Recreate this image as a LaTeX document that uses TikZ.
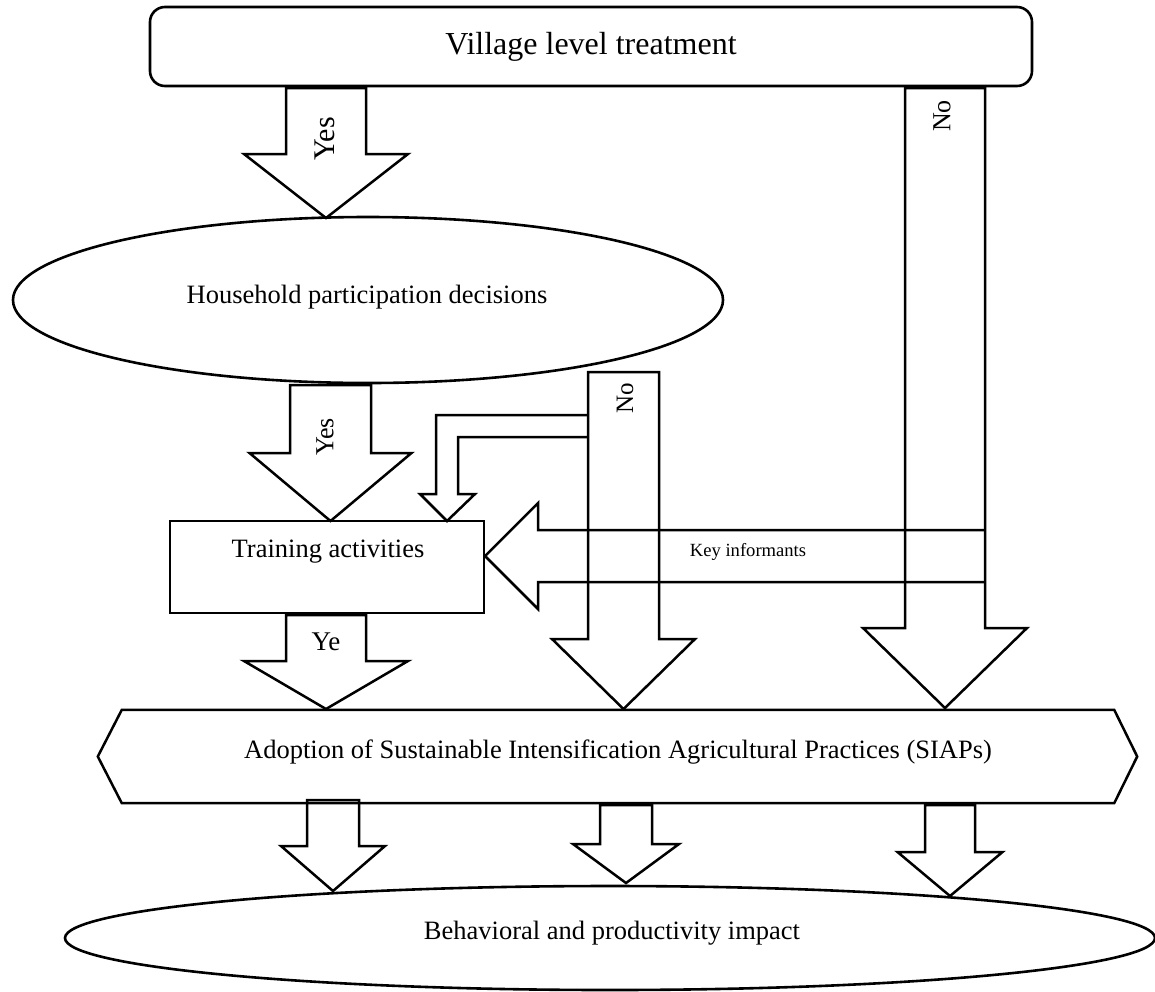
\documentclass[tikz,border=0pt]{standalone}
\usepackage{fontspec}
\setmainfont{Liberation Serif}
\usetikzlibrary{shapes.geometric}
\newcommand\blkdown[6]{%
  \draw[blk] ({#1-#5},#2) -- ({#1-#5},#3) -- ({#1-#6},#3) -- (#1,#4) -- ({#1+#6},#3) -- ({#1+#5},#3) -- ({#1+#5},#2) -- cycle;}
\tikzset{
  outl/.style={draw=black, line width=2.6pt, inner sep=0pt},
  blk/.style={draw=black, line width=2.5pt, line join=miter},
  fmain/.style={font=\fontsize{26.5}{30}\selectfont},
  lbl/.style={inner sep=0pt}
}
\begin{document}
\begin{tikzpicture}[x=1pt,y=-1pt]
\useasboundingbox (0,0) rectangle (1155,991);
% boxes
\node[outl, rounded corners=15pt, minimum width=882pt, minimum height=79pt,
  font=\fontsize{32}{36}\selectfont] (vlt) at (591,46.5) {Village level treatment};
\node[outl, ellipse, minimum width=710pt, minimum height=166pt, fmain] (hh) at (368,300) {};
\node[lbl, fmain] (hht) at (367,297) {Household participation decisions};
\node[outl, minimum width=314pt, minimum height=92pt] (tr) at (327,567) {};
\node[lbl, fmain] (trt) at (328,552) {Training activities};
\node[lbl, minimum width=992pt, minimum height=93pt] (siap) at (618,756.5) {};
\draw[blk] (siap.north west) -- (siap.north east) -- ([xshift=23pt]siap.east) -- (siap.south east) -- (siap.south west) -- ([xshift=-24pt]siap.west) -- cycle;
\node[lbl, fmain] (siapt) at (618,752) {Adoption of Sustainable Intensification Agricultural Practices (SIAPs)};
\node[outl, ellipse, minimum width=1090pt, minimum height=104pt] (imp) at (610,938) {};
\node[lbl, fmain] (impt) at (612,933) {Behavioral and productivity impact};
% block arrows
\blkdown{326}{88}{154}{218}{40}{82}
\blkdown{945}{88}{628}{708}{40}{82}
\blkdown{330.5}{385}{453}{521}{40.5}{81}
\blkdown{623.5}{372}{639}{709}{35.5}{71.5}
\blkdown{326}{615}{661}{709}{40}{82}
\blkdown{333}{800}{846}{891}{26}{52}
\blkdown{626}{805}{844}{883}{26}{53}
\blkdown{950}{805}{852}{896}{25}{52.5}
% bent arrow from No into training
\draw[blk] (588,415) -- (436,415) -- (436,494) -- (420,494) -- (447,521) -- (475,494) -- (458,494) -- (458,437) -- (588,437);
% key informants arrow
\draw[blk] (985,530) -- (538,530) -- (538,503) -- (485,556) -- (538,609) -- (538,582) -- (985,582);
% labels
\node[lbl, rotate=90, font=\fontsize{30}{34}\selectfont] (y1) at (325,139) {Yes};
\node[lbl, rotate=90, font=\fontsize{26}{30}\selectfont] (n1) at (942,116) {No};
\node[lbl, rotate=90, font=\fontsize{26}{30}\selectfont] (y2) at (325,437) {Yes};
\node[lbl, rotate=90, font=\fontsize{25}{29}\selectfont] (n2) at (625,398) {No};
\node[lbl, font=\fontsize{27}{31}\selectfont] (y3) at (326,642) {Ye};
\node[lbl, font=\fontsize{18.6}{22}\selectfont] (ki) at (748,552) {Key informants};
\end{tikzpicture}
\end{document}
